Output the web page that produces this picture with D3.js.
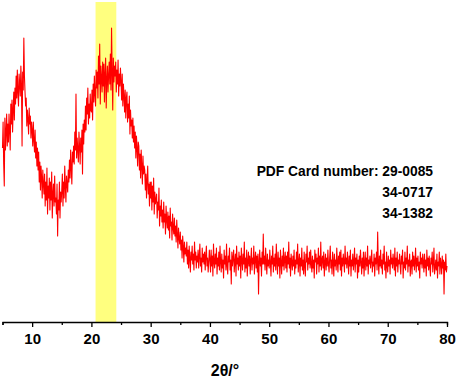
<!DOCTYPE html>
<html>
<head>
<meta charset="utf-8">
<script src="https://cdn.jsdelivr.net/npm/d3@7"></script>
<style>
  body { margin: 0; background: #fff; }
  svg text { font-family: "Liberation Sans", Arial, sans-serif; font-weight: bold; fill: #000; }
</style>
</head>
<body>
<div id="chart"></div>
<script>
// XRD scan, 2theta from 5 to 80 deg in 0.1 deg steps (one row = one degree)
var start_angle = 5;
var step_angle = 0.1;
var counts = [
  870, 1000, 790, 680, 1020, 860, 950, 1040, 880, 990,
  900, 1040, 960, 860, 1090, 990, 1110, 950, 1060, 1150,
  1010, 1170, 1090, 1230, 1120, 1260, 1150, 1080, 1240, 1190,
  1130, 1280, 1190, 880, 1250, 1160, 1420, 1230, 1150, 1080,
  1120, 980, 1060, 1010, 940, 1070, 990, 1030, 920, 1000,
  960, 880, 1000, 910, 850, 960, 820, 900, 780, 870,
  760, 850, 700, 800, 660, 780, 720, 620, 760, 690,
  640, 740, 580, 700, 610, 770, 540, 680, 620, 720,
  560, 700, 610, 750, 520, 640, 690, 580, 730, 600,
  620, 540, 690, 430, 610, 560, 700, 520, 650, 600,
  660, 740, 580, 700, 620, 780, 680, 600, 730, 690,
  650, 760, 700, 810, 720, 860, 770, 690, 850, 800,
  880, 790, 950, 860, 1140, 820, 920, 860, 800, 950,
  880, 790, 920, 850, 960, 740, 990, 890, 1010, 950,
  1080, 960, 1120, 1040, 1170, 990, 1090, 1020, 1140, 1060,
  1050, 1160, 1010, 1190, 1100, 1230, 1140, 1080, 1260, 1170,
  1250, 1120, 1330, 1190, 1390, 1090, 1280, 1220, 1150, 1300,
  1180, 1290, 1100, 1240, 1320, 1070, 1210, 1280, 1150, 1230,
  1300, 1190, 1340, 1160, 1470, 1250, 1060, 1320, 1200, 1280,
  1230, 1300, 1150, 1260, 1190, 1310, 1130, 1240, 1180, 1270,
  1200, 1110, 1240, 1080, 1190, 1130, 1050, 1160, 1020, 1120,
  1150, 1000, 1090, 1020, 1130, 940, 1060, 980, 1010, 920,
  1020, 900, 980, 870, 950, 820, 930, 870, 780, 900,
  880, 760, 840, 720, 860, 780, 690, 830, 740, 780,
  760, 660, 740, 620, 710, 780, 640, 690, 580, 700,
  620, 700, 560, 680, 600, 720, 540, 650, 590, 610,
  640, 520, 600, 560, 670, 480, 580, 530, 610, 500,
  560, 470, 600, 500, 540, 440, 580, 510, 470, 550,
  460, 530, 420, 570, 480, 500, 410, 540, 470, 440,
  520, 430, 480, 400, 510, 440, 370, 470, 420, 390,
  450, 360, 410, 320, 430, 380, 300, 400, 340, 370,
  330, 400, 290, 360, 270, 380, 320, 250, 350, 310,
  380, 290, 340, 260, 400, 310, 350, 270, 330, 300,
  360, 270, 330, 390, 280, 320, 250, 370, 300, 340,
  290, 350, 260, 330, 380, 280, 320, 250, 300, 360,
  310, 250, 360, 280, 330, 230, 390, 300, 270, 340,
  290, 370, 240, 320, 280, 350, 260, 380, 300, 250,
  340, 270, 310, 220, 360, 290, 330, 260, 390, 280,
  240, 330, 300, 370, 260, 310, 190, 350, 280, 320,
  360, 250, 300, 340, 230, 380, 290, 320, 260, 350,
  280, 330, 220, 370, 310, 260, 340, 290, 400, 250,
  320, 270, 360, 230, 300, 350, 280, 330, 240, 310,
  370, 260, 320, 290, 380, 240, 310, 350, 270, 330,
  250, 340, 140, 300, 360, 280, 320, 230, 350, 290,
  440, 290, 330, 260, 370, 300, 240, 340, 280, 310,
  270, 360, 300, 230, 330, 290, 380, 250, 320, 280,
  340, 260, 390, 300, 240, 350, 280, 320, 220, 360,
  300, 240, 330, 280, 370, 260, 310, 350, 270, 330,
  250, 350, 290, 400, 270, 320, 230, 340, 300, 260,
  330, 280, 360, 240, 310, 270, 350, 290, 390, 250,
  300, 340, 230, 320, 280, 370, 260, 310, 240, 350,
  280, 230, 340, 300, 380, 260, 320, 290, 350, 270,
  360, 290, 250, 330, 270, 310, 220, 360, 300, 340,
  240, 320, 290, 370, 250, 330, 280, 400, 260, 310,
  330, 270, 350, 230, 300, 340, 260, 320, 280, 360,
  290, 250, 320, 380, 270, 310, 240, 350, 300, 230,
  340, 280, 310, 260, 370, 300, 250, 330, 290, 350,
  260, 360, 230, 320, 280, 340, 300, 250, 380, 290,
  320, 270, 350, 300, 240, 330, 280, 360, 230, 310,
  280, 340, 260, 300, 370, 250, 320, 290, 340, 220,
  310, 250, 330, 280, 360, 300, 240, 320, 270, 350,
  230, 300, 350, 260, 320, 280, 380, 240, 310, 290,
  330, 270, 310, 360, 250, 300, 280, 340, 230, 320,
  290, 350, 260, 450, 300, 240, 330, 280, 360, 270,
  310, 240, 340, 290, 380, 260, 300, 220, 350, 280,
  250, 330, 280, 310, 240, 360, 290, 320, 270, 340,
  300, 260, 370, 230, 320, 280, 350, 250, 310, 290,
  340, 280, 240, 330, 290, 360, 220, 300, 270, 350,
  260, 320, 290, 380, 250, 310, 280, 340, 230, 300,
  310, 240, 350, 280, 330, 260, 300, 370, 250, 320,
  280, 330, 260, 300, 220, 350, 290, 320, 270, 340,
  300, 250, 340, 270, 310, 230, 360, 280, 320, 260,
  330, 280, 230, 320, 290, 350, 250, 300, 370, 240,
  270, 310, 260, 340, 220, 300, 280, 350, 240, 320,
  290, 240, 330, 270, 310, 140, 300, 260, 340, 250,
  280
];

var major_ticks = [10, 20, 30, 40, 50, 60, 70, 80];
var minor_ticks = [5, 15, 25, 35, 45, 55, 65, 75];
var highlight = [20.7, 24.2];          // yellow band, 2theta range
var card_lines = ["PDF Card number: 29-0085", "34-0717", "34-1382"];
var x_title = "2\u03b8/\u00b0";

var chart_width = 457;
var chart_height = 378;
var axis_y = 322;

var svg = d3.select('#chart')
  .append('svg')
  .attr('width', chart_width)
  .attr('height', chart_height);

var x_scale = d3.scaleLinear()
  .domain([5, 80])
  .range([2.5, 447]);

var y_scale = d3.scaleLinear()
  .domain([0, 1600])
  .range([axis_y, 2]);

// yellow highlight band
svg.append('rect')
  .attr('x', x_scale(highlight[0]))
  .attr('y', y_scale(1600))
  .attr('width', x_scale(highlight[1]) - x_scale(highlight[0]))
  .attr('height', y_scale(0) - y_scale(1600))
  .attr('fill', '#ffff7f');

// pattern
var line = d3.line()
  .x(function(d, i) { return x_scale(start_angle + i * step_angle); })
  .y(function(d) { return y_scale(d); });

svg.append('path')
  .datum(counts)
  .attr('d', line)
  .attr('fill', 'none')
  .attr('stroke', '#ff0000')
  .attr('stroke-width', 1.1)
  .attr('stroke-linejoin', 'round');

// x axis: minor ticks first, then major ticks with labels
svg.append('g')
  .attr('transform', 'translate(0,' + axis_y + ')')
  .call(d3.axisBottom(x_scale).tickValues(minor_ticks).tickSize(3).tickSizeOuter(0).tickFormat(''))
  .call(function(g) { g.select('.domain').remove(); })
  .selectAll('line').attr('stroke', '#000').attr('stroke-width', 1.3);

var x_axis = svg.append('g')
  .attr('transform', 'translate(0,' + axis_y + ')')
  .call(d3.axisBottom(x_scale).tickValues(major_ticks).tickSize(5).tickSizeOuter(3).tickPadding(6).tickFormat(d3.format('d')));

x_axis.select('.domain').attr('stroke', '#000').attr('stroke-width', 1.3);
x_axis.selectAll('.tick line').attr('stroke', '#000').attr('stroke-width', 1.3);
x_axis.selectAll('.tick text')
  .attr('font-size', 15)
  .attr('font-family', '"Liberation Sans", Arial, sans-serif')
  .attr('font-weight', 'bold')
  .attr('fill', '#000');

svg.append('text')
  .attr('x', 225)
  .attr('y', 376)
  .attr('text-anchor', 'middle')
  .attr('font-size', 16)
  .text(x_title);

// card numbers, right aligned
svg.selectAll('.card')
  .data(card_lines)
  .enter()
  .append('text')
  .attr('class', 'card')
  .attr('x', 433)
  .attr('y', function(d, i) { return 176 + i * 20.8; })
  .attr('text-anchor', 'end')
  .attr('font-size', 13.8)
  .text(function(d) { return d; });
</script>
</body>
</html>
